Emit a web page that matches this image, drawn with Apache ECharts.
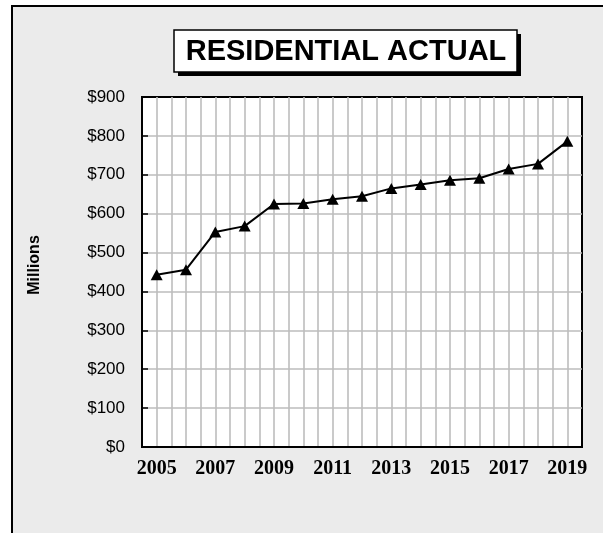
<!DOCTYPE html>
<html>
<head>
<meta charset="utf-8">
<script src="https://cdn.jsdelivr.net/npm/echarts@6/dist/echarts.min.js"></script>
<style>
  html, body { margin: 0; padding: 0; background: #fff; }
  #chart { width: 603px; height: 533px; }
</style>
</head>
<body>
<div id="chart"></div>
<script>
// years on the x axis
var years = ['2005', '2006', '2007', '2008', '2009', '2010', '2011', '2012',
             '2013', '2014', '2015', '2016', '2017', '2018', '2019'];
// residential actual, millions of dollars
var residential = [443, 456, 553, 568, 625, 626, 637, 645,
                   665, 675, 686, 691, 715, 728, 786];
// y axis ticks: $0 .. $900
var yMin = 0, yMax = 900, yStep = 100;

var myChart = echarts.init(document.getElementById('chart'));

var option = {
  animation: false,
  title: {
    text: 'RESIDENTIAL ACTUAL',
    left: 346,
    top: 37,
    textAlign: 'center',
    padding: 0,
    textStyle: {
      fontFamily: 'Liberation Sans, Arial, sans-serif',
      fontSize: 29,
      fontWeight: 'bold',
      color: '#000'
    }
  },
  graphic: [
    { // grey frame, cut off at right and bottom
      type: 'rect', z: -10, silent: true,
      shape: { x: 12, y: 6, width: 700, height: 600 },
      style: { fill: '#ebebeb', stroke: '#000', lineWidth: 2 }
    },
    { // title box shadow
      type: 'rect', z: -9, silent: true,
      shape: { x: 178, y: 34, width: 343, height: 42 },
      style: { fill: '#000' }
    },
    { // title box
      type: 'rect', z: -8, silent: true,
      shape: { x: 174, y: 30, width: 343, height: 42 },
      style: { fill: '#fff', stroke: '#000', lineWidth: 1.5 }
    }
  ],
  grid: {
    left: 142,
    top: 97,
    width: 440,
    height: 350,
    show: true,
    backgroundColor: '#fff',
    borderColor: '#000',
    borderWidth: 2
  },
  xAxis: [
    {
      type: 'category',
      data: years,
      boundaryGap: true,
      axisLine: { lineStyle: { color: '#000', width: 2 } },
      axisTick: { alignWithLabel: true, inside: true, length: 5, lineStyle: { color: '#000', width: 1.5 } },
      axisLabel: {
        interval: 1,
        margin: 12,
        color: '#000',
        fontFamily: 'Liberation Serif, Times New Roman, serif',
        fontSize: 20,
        fontWeight: 'bold'
      },
      splitLine: { show: false },
      z: 5
    },
    { // half-year grid lines
      type: 'value',
      min: 0,
      max: 30,
      interval: 1,
      position: 'bottom',
      axisLine: { show: false },
      axisTick: { show: false },
      axisLabel: { show: false },
      splitLine: {
        show: true,
        showMinLine: false,
        showMaxLine: false,
        lineStyle: { color: '#bdbdbd', width: 1.6 }
      }
    }
  ],
  yAxis: {
    type: 'value',
    min: yMin,
    max: yMax,
    interval: yStep,
    name: 'Millions',
    nameLocation: 'middle',
    nameRotate: 90,
    nameGap: 99,
    nameTextStyle: {
      fontFamily: 'Liberation Sans, Arial, sans-serif',
      fontSize: 16,
      fontWeight: 'bold',
      color: '#000',
      padding: [0, 0, 0, 14]
    },
    axisLine: { show: true, lineStyle: { color: '#000', width: 2 } },
    axisTick: { show: true, inside: true, length: 6, lineStyle: { color: '#000', width: 1.5 } },
    axisLabel: {
      margin: 17,
      color: '#000',
      fontFamily: 'Liberation Sans, Arial, sans-serif',
      fontSize: 17,
      formatter: function (v) { return '$' + v; }
    },
    splitLine: {
      show: true,
      showMaxLine: false,
      lineStyle: { color: '#bdbdbd', width: 1.6 }
    },
    z: 5
  },
  series: [
    {
      name: 'Residential Actual',
      type: 'line',
      xAxisIndex: 0,
      data: residential,
      symbol: 'triangle',
      symbolSize: [12, 11],
      showAllSymbol: true,
      itemStyle: { color: '#000' },
      lineStyle: { color: '#000', width: 2 },
      z: 10
    }
  ]
};

myChart.setOption(option);
</script>
</body>
</html>
